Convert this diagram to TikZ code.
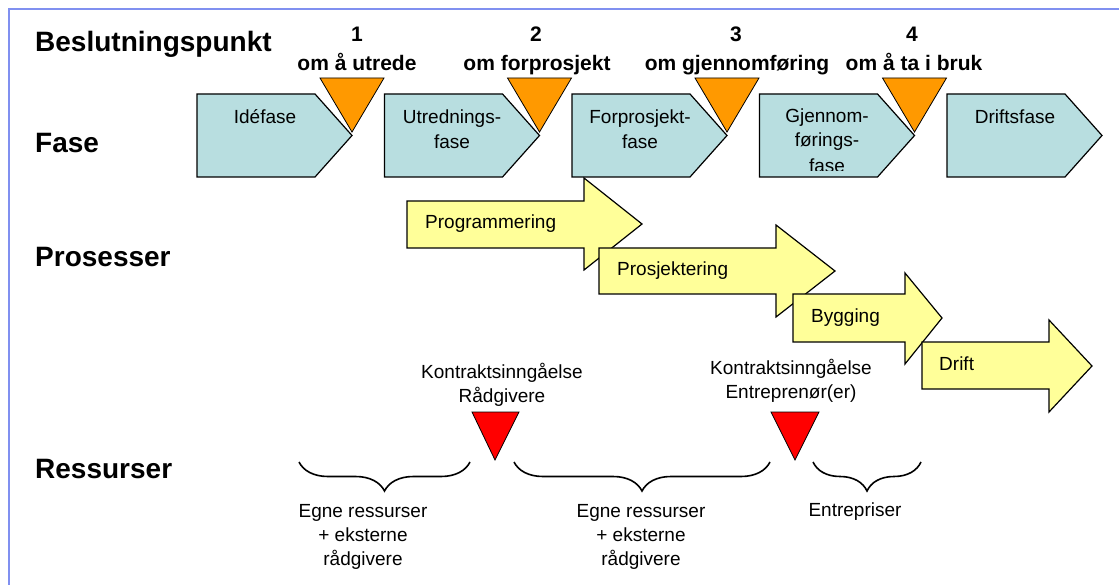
\documentclass[tikz,border=0pt]{standalone}
\usepackage{fontspec}
\setmainfont{Liberation Sans}
\usetikzlibrary{decorations.pathreplacing}
\definecolor{phaseblue}{RGB}{184,222,224}
\definecolor{gateorange}{RGB}{255,153,0}
\definecolor{procyellow}{RGB}{255,255,153}
\definecolor{framecol}{RGB}{128,144,240}
\definecolor{contractred}{RGB}{255,0,0}
\begin{document}
\begin{tikzpicture}[x=1pt,y=-1pt,
  rowlabel/.style={font=\fontsize{28}{30}\selectfont\bfseries, anchor=base west, inner sep=0pt},
  gatelabel/.style={font=\fontsize{21}{24}\selectfont\bfseries, anchor=base, inner sep=0pt},
  bodytext/.style={font=\fontsize{19}{24}\selectfont, anchor=base, inner sep=0pt},
  proctext/.style={font=\fontsize{19}{24}\selectfont, anchor=base west, inner sep=0pt},
  phasebox/.style={fill=phaseblue, draw=black, line width=1.2pt, line join=miter},
  gate/.style={fill=gateorange, draw=black, line width=0.8pt},
  contract/.style={fill=contractred, draw=black, line width=0.8pt},
  procarrow/.style={fill=procyellow, draw=black, line width=1.2pt},
  resbrace/.style={draw=black, line width=1.6pt, decorate,
    decoration={brace, mirror, amplitude=29pt}}]
\useasboundingbox (0,0) rectangle (1119,585);
\fill[white] (0,0) rectangle (1119,585);
% frame lines
\draw[framecol, line width=2pt] (9,585) -- (9,9) -- (1119,9);

% row labels
\node[rowlabel] (lblgate) at (35,52) {Beslutningspunkt};
\node[rowlabel] (lblphase) at (35,153) {Fase};
\node[rowlabel] (lblproc) at (35,267) {Prosesser};
\node[rowlabel] (lblres) at (35,478) {Ressurser};

% phase boxes
\foreach \i in {0,...,4}{
  \pgfmathsetmacro{\xa}{197+187.5*\i}
  \draw[phasebox] (\xa,94) -- (\xa+118,94) -- (\xa+155,135.5) -- (\xa+118,177) -- (\xa,177) -- cycle;
}
% phase texts
\node[bodytext] (ph1) at (265,124) {Idéfase};
\node[bodytext] (ph2a) at (452,124) {Utrednings-};
\node[bodytext] (ph2b) at (452,149) {fase};
\node[bodytext] (ph3a) at (640,124) {Forprosjekt-};
\node[bodytext] (ph3b) at (640,149) {fase};
\node[bodytext] (ph4a) at (827,123) {Gjennom-};
\node[bodytext] (ph4b) at (827,147) {førings-};
\begin{scope}
  \clip (759,94) rectangle (877,171);
  \node[bodytext] (ph4c) at (827,173) {fase};
\end{scope}
\node[bodytext] (ph5) at (1015,124) {Driftsfase};

% decision gates
\foreach \i in {0,...,3}{
  \pgfmathsetmacro{\xt}{352+187.5*\i}
  \draw[gate] (\xt-32,78) -- (\xt+32,78) -- (\xt,132) -- cycle;
}
\node[gatelabel] (g1n) at (357,42) {1};
\node[gatelabel] (g1t) at (357,71) {om å utrede};
\node[gatelabel] (g2n) at (536,42) {2};
\node[gatelabel] (g2t) at (537,71) {om forprosjekt};
\node[gatelabel] (g3n) at (736,42) {3};
\node[gatelabel] (g3t) at (737,71) {om gjennomføring};
\node[gatelabel] (g4n) at (912,42) {4};
\node[gatelabel] (g4t) at (914,71) {om å ta i bruk};

% process arrows
\draw[procarrow] (407,201) -- (584,201) -- (584,178) -- (642,224) -- (584,270) -- (584,248) -- (407,248) -- cycle;
\node[proctext] (pr1) at (425,229) {Programmering};
\draw[procarrow] (599,248) -- (776,248) -- (776,225) -- (835,271) -- (776,317) -- (776,294) -- (599,294) -- cycle;
\node[proctext] (pr2) at (617,276) {Prosjektering};
\draw[procarrow] (793,294) -- (905,294) -- (905,273) -- (942,318) -- (905,364) -- (905,342) -- (793,342) -- cycle;
\node[proctext] (pr3) at (811,323) {Bygging};
\draw[procarrow] (922,342) -- (1049,342) -- (1049,320) -- (1092,366) -- (1049,412) -- (1049,389) -- (922,389) -- cycle;
\node[proctext] (pr4) at (939,370) {Drift};

% contract milestones
\draw[contract] (472,412) -- (519,412) -- (495,460) -- cycle;
\draw[contract] (771,412) -- (819,412) -- (795,460) -- cycle;
\node[bodytext] (c1a) at (502,378) {Kontraktsinngåelse};
\node[bodytext] (c1b) at (502,402) {Rådgivere};
\node[bodytext] (c2a) at (791,374) {Kontraktsinngåelse};
\node[bodytext] (c2b) at (791,398) {Entreprenør(er)};

% resource braces
\coordinate (b1s) at (299,462); \coordinate (b1e) at (470,462);
\coordinate (b2s) at (514,462); \coordinate (b2e) at (770,462);
\coordinate (b3s) at (813,462); \coordinate (b3e) at (921,462);
\draw[resbrace] (b1s) -- (b1e);
\draw[resbrace] (b2s) -- (b2e);
\draw[resbrace] (b3s) -- (b3e);
\node[bodytext] (r1a) at (363,517) {Egne ressurser};
\node[bodytext] (r1b) at (363,541) {+ eksterne};
\node[bodytext] (r1c) at (363,565) {rådgivere};
\node[bodytext] (r2a) at (641,517) {Egne ressurser};
\node[bodytext] (r2b) at (641,541) {+ eksterne};
\node[bodytext] (r2c) at (641,565) {rådgivere};
\node[bodytext] (r3a) at (855,516) {Entrepriser};
\end{tikzpicture}
\end{document}
